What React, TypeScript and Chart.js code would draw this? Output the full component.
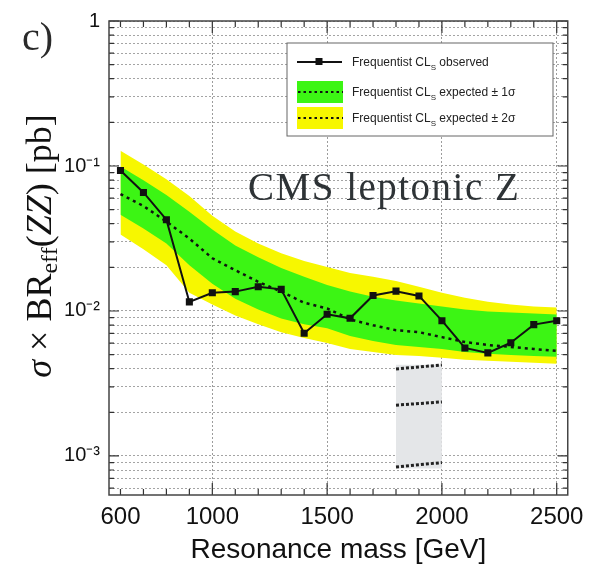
import { useEffect, useRef } from 'react';
import { Chart, registerables } from 'chart.js';

Chart.register(...registerables);

// ---- data (GeV, pb) ----
const masses = [600, 700, 800, 900, 1000, 1100, 1200, 1300, 1400, 1500, 1600, 1700, 1800, 1900, 2000, 2100, 2200, 2300, 2400, 2500];
const observed = [0.093, 0.0657, 0.0426, 0.01155, 0.01336, 0.0136, 0.0147, 0.0141, 0.00703, 0.0095, 0.0089, 0.0128, 0.0137, 0.0127, 0.00857, 0.00556, 0.00514, 0.00604, 0.00805, 0.00857];
const expected = [0.064, 0.053, 0.0413, 0.0316, 0.0231, 0.0191, 0.0159, 0.0136, 0.0114, 0.0104, 0.00875, 0.00797, 0.00737, 0.00714, 0.0066, 0.00611, 0.00583, 0.00565, 0.00547, 0.0053];
const plus1Sigma = [0.0992, 0.0797, 0.063, 0.0483, 0.0364, 0.0283, 0.0235, 0.0198, 0.0172, 0.0151, 0.0136, 0.01255, 0.01179, 0.01124, 0.01073, 0.01024, 0.00992, 0.00977, 0.00962, 0.00947];
const minus1Sigma = [0.0461, 0.037, 0.0292, 0.0207, 0.01538, 0.01216, 0.01024, 0.00889, 0.00809, 0.0076, 0.00671, 0.0062, 0.00582, 0.00564, 0.00547, 0.00522, 0.00506, 0.00498, 0.0049, 0.00483];
const plus2Sigma = [0.1274, 0.1024, 0.0809, 0.062, 0.0453, 0.0353, 0.0292, 0.025, 0.0221, 0.0201, 0.0183, 0.0172, 0.0161, 0.0147, 0.01336, 0.01235, 0.0116, 0.01107, 0.01073, 0.01056];
const minus2Sigma = [0.0337, 0.0266, 0.0207, 0.01336, 0.01107, 0.00932, 0.00809, 0.00714, 0.0065, 0.00601, 0.00547, 0.00522, 0.00498, 0.0049, 0.00475, 0.0046, 0.00453, 0.00446, 0.00439, 0.00433];

const boxMasses = [1800, 1900, 2000];
const boxUpper = [0.00426, 0.00426, 0.00426];
const boxLower = [0.00082, 0.00082, 0.00082];
const boxLineA = [0.00398, 0.00411, 0.00424];
const boxLineB = [0.00224, 0.0023, 0.00236];
const boxLineC = [0.00084, 0.00087, 0.0009];

const xTickValues = [600, 700, 800, 900, 1000, 1100, 1200, 1300, 1400, 1500, 1600, 1700, 1800, 1900, 2000, 2100, 2200, 2300, 2400, 2500];
const xTickLabels = [600, 1000, 1500, 2000, 2500];
const xGridValues = [1000, 1500, 2000, 2500];
const yMajorValues = [1, 0.1, 0.01, 0.001];
const yMajorLabels = ['1', '10⁻¹', '10⁻²', '10⁻³'];
const yMin = 0.000538;
const yMax = 1;

const yTickValues: number[] = [];
for (const m of yMajorValues) {
  for (let k = 1; k <= 9; k++) {
    const v = m * k;
    if (v >= yMin && v <= yMax * 1.0001) yTickValues.push(v);
  }
}
for (let k = 6; k <= 9; k++) yTickValues.push(0.0001 * k);

const GREEN = '#3cf514';
const YELLOW = '#f7f700';

const xy = (xs: number[], ys: number[]) => xs.map((x, i) => ({ x, y: ys[i] }));
const isMajorY = (v: number) => yMajorValues.some((m) => Math.abs(v - m) / m < 1e-6);

const decor = {
  id: 'decor',
  afterDraw(chart: any) {
    const { ctx, chartArea: a, scales } = chart;
    const x = scales.x;
    const y = scales.y;
    ctx.save();
    // ticks
    ctx.strokeStyle = '#333';
    ctx.lineWidth = 1.2;
    ctx.beginPath();
    for (const t of x.ticks) {
      const px = x.getPixelForValue(t.value);
      const len = t.value % 500 === 0 ? 12 : 6;
      ctx.moveTo(px, a.bottom);
      ctx.lineTo(px, a.bottom - len);
      ctx.moveTo(px, a.top);
      ctx.lineTo(px, a.top + len);
    }
    for (const t of y.ticks) {
      const py = y.getPixelForValue(t.value);
      const len = isMajorY(t.value) ? 10 : 5;
      ctx.moveTo(a.left, py);
      ctx.lineTo(a.left + len, py);
      ctx.moveTo(a.right, py);
      ctx.lineTo(a.right - len, py);
    }
    ctx.stroke();
    // frame
    ctx.strokeStyle = '#444';
    ctx.lineWidth = 1.5;
    ctx.strokeRect(a.left, a.top, a.right - a.left, a.bottom - a.top);

    // legend
    const lx = 287, ly = 43, lw = 266, lh = 93;
    ctx.fillStyle = '#fff';
    ctx.fillRect(lx, ly, lw, lh);
    ctx.strokeStyle = '#666';
    ctx.lineWidth = 1;
    ctx.strokeRect(lx, ly, lw, lh);
    // entry 1
    ctx.strokeStyle = '#111';
    ctx.lineWidth = 2;
    ctx.setLineDash([]);
    ctx.beginPath();
    ctx.moveTo(297, 62);
    ctx.lineTo(342, 62);
    ctx.stroke();
    ctx.fillStyle = '#111';
    ctx.fillRect(315.5, 58, 7, 7);
    // entry 2, 3
    const rows = [
      { yc: 92, col: GREEN },
      { yc: 118, col: YELLOW },
    ];
    for (const r of rows) {
      ctx.fillStyle = r.col;
      ctx.fillRect(297, r.yc - 11, 46, 22);
      ctx.strokeStyle = '#111';
      ctx.lineWidth = 2;
      ctx.setLineDash([2.5, 3]);
      ctx.beginPath();
      ctx.moveTo(298, r.yc);
      ctx.lineTo(343, r.yc);
      ctx.stroke();
      ctx.setLineDash([]);
    }
    const texts = [
      { yc: 62, rest: ' observed' },
      { yc: 92, rest: ' expected ± 1σ' },
      { yc: 118, rest: ' expected ± 2σ' },
    ];
    ctx.fillStyle = '#222';
    ctx.textBaseline = 'alphabetic';
    for (const t of texts) {
      let cx = 352;
      const base = t.yc + 4;
      ctx.font = '12px "Liberation Sans", Arial, sans-serif';
      ctx.fillText('Frequentist CL', cx, base);
      cx += ctx.measureText('Frequentist CL').width;
      ctx.font = '8px "Liberation Sans", Arial, sans-serif';
      ctx.fillText('S', cx, base + 4);
      cx += ctx.measureText('S').width;
      ctx.font = '12px "Liberation Sans", Arial, sans-serif';
      ctx.fillText(t.rest, cx, base);
    }

    // panel label and annotation
    ctx.fillStyle = '#2a2a2a';
    ctx.font = '40px "Liberation Serif", "Times New Roman", serif';
    ctx.fillText('c)', 22, 50);
    ctx.fillStyle = '#2e3336';
    (ctx as any).letterSpacing = '1.5px';
    ctx.font = '39px "Liberation Serif", "Times New Roman", serif';
    ctx.fillText('CMS leptonic Z', 248, 200);
    (ctx as any).letterSpacing = '0px';

    // y-axis title (rotated) with subscript
    ctx.save();
    ctx.translate(51, 246);
    ctx.rotate(-Math.PI / 2);
    ctx.fillStyle = '#111';
    const big = '36px "Liberation Serif", "Times New Roman", serif';
    const bigI = 'italic 36px "Liberation Serif", "Times New Roman", serif';
    const small = '24px "Liberation Serif", "Times New Roman", serif';
    const parts = [
      { t: 'σ', f: bigI, dy: 0 },
      { t: ' × BR', f: big, dy: 0 },
      { t: 'eff', f: small, dy: 6 },
      { t: '(', f: big, dy: 0 },
      { t: 'ZZ', f: bigI, dy: 0 },
      { t: ') [pb]', f: big, dy: 0 },
    ];
    let total = 0;
    for (const p of parts) {
      ctx.font = p.f;
      total += ctx.measureText(p.t).width;
    }
    let cx = -total / 2;
    for (const p of parts) {
      ctx.font = p.f;
      ctx.fillText(p.t, cx, p.dy);
      cx += ctx.measureText(p.t).width;
    }
    ctx.restore();
    ctx.restore();
  },
};

export default function App() {
  const ref = useRef<HTMLCanvasElement | null>(null);
  useEffect(() => {
    document.body.style.margin = '0';
    if (!ref.current) return;
    const line = (data: any, extra: any) => ({
      data,
      pointRadius: 0,
      borderWidth: 0,
      borderColor: 'rgba(0,0,0,0)',
      fill: false,
      tension: 0,
      ...extra,
    });
    const chart = new Chart(ref.current, {
      type: 'line',
      data: {
        datasets: [
          line(xy(masses, plus2Sigma), { fill: '+1', backgroundColor: YELLOW, order: 10 }),
          line(xy(masses, minus2Sigma), { order: 10 }),
          line(xy(masses, plus1Sigma), { fill: '+1', backgroundColor: GREEN, order: 9 }),
          line(xy(masses, minus1Sigma), { order: 9 }),
          line(xy(boxMasses, boxUpper), { fill: '+1', backgroundColor: '#e4e6e8', order: 8 }),
          line(xy(boxMasses, boxLower), { order: 8 }),
          line(xy(boxMasses, boxLineA), { borderWidth: 3, borderColor: '#222', borderDash: [3, 2], order: 7 }),
          line(xy(boxMasses, boxLineB), { borderWidth: 3, borderColor: '#222', borderDash: [3, 2], order: 7 }),
          line(xy(boxMasses, boxLineC), { borderWidth: 3, borderColor: '#222', borderDash: [3, 2], order: 7 }),
          line(xy(masses, expected), { borderWidth: 2.5, borderColor: '#111', borderDash: [3, 4], order: 2 }),
          line(xy(masses, observed), {
            borderWidth: 2,
            borderColor: '#111',
            pointRadius: 5,
            pointStyle: 'rect',
            pointBackgroundColor: '#111',
            pointBorderColor: '#111',
            pointBorderWidth: 0,
            order: 1,
          }),
        ],
      },
      options: {
        responsive: false,
        animation: false,
        events: [],
        layout: { padding: { left: 0, right: 24, top: 15, bottom: 0 } },
        plugins: { legend: { display: false }, tooltip: { enabled: false } },
        scales: {
          x: {
            type: 'linear',
            min: 550,
            max: 2548,
            afterBuildTicks: (s: any) => {
              s.ticks = xTickValues.map((v) => ({ value: v }));
            },
            afterFit: (s: any) => {
              s.height = 73;
            },
            ticks: {
              autoSkip: false,
              maxRotation: 0,
              padding: 8,
              color: '#111',
              font: { family: '"Liberation Sans", Arial, sans-serif', size: 24 },
              callback: (v: any) => (xTickLabels.includes(Number(v)) ? String(v) : ''),
            },
            grid: {
              drawTicks: false,
              lineWidth: 1,
              color: (c: any) => (c.tick && xGridValues.includes(c.tick.value) ? '#9c9c9c' : 'rgba(0,0,0,0)'),
            },
            border: { display: false, dash: [2, 2] },
            title: {
              display: true,
              text: 'Resonance mass [GeV]',
              color: '#111',
              font: { family: '"Liberation Sans", Arial, sans-serif', size: 28 },
              padding: { top: 0, bottom: 1 },
            },
          },
          y: {
            type: 'logarithmic',
            min: yMin,
            max: yMax,
            afterBuildTicks: (s: any) => {
              s.ticks = yTickValues.map((v) => ({ value: v }));
            },
            afterFit: (s: any) => {
              s.width = 109;
            },
            ticks: {
              autoSkip: false,
              padding: 9,
              color: '#111',
              font: { family: '"Liberation Sans", Arial, sans-serif', size: 20 },
              callback: (v: any) => {
                const i = yMajorValues.findIndex((m) => Math.abs(Number(v) - m) / m < 1e-6);
                return i >= 0 ? yMajorLabels[i] : '';
              },
            },
            grid: { drawTicks: false, lineWidth: 1, color: '#a4a4a4' },
            border: { display: false, dash: [2, 2] },
          },
        },
      } as any,
      plugins: [decor],
    });
    return () => chart.destroy();
  }, []);
  return (
    <div style={{ width: 592, height: 568 }}>
      <canvas ref={ref} width={592} height={568} />
    </div>
  );
}
